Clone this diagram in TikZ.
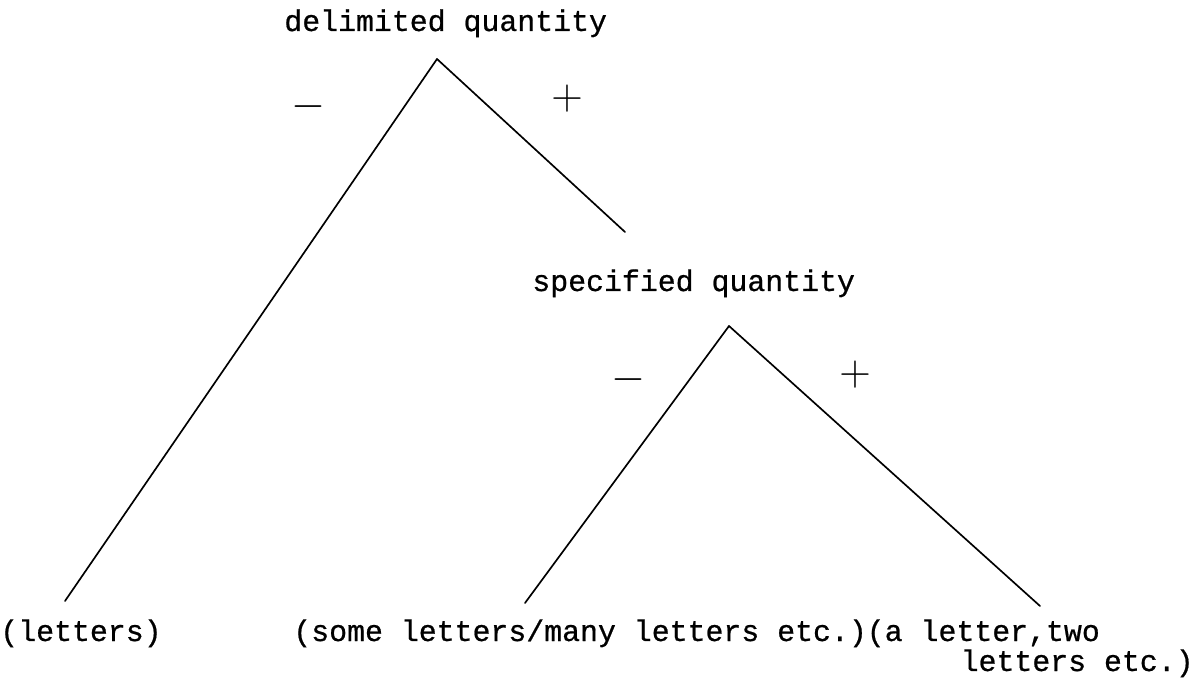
\documentclass[tikz,border=0pt]{standalone}
\usepackage{fontspec}
\setmonofont{Liberation Mono}[FakeBold=0.7]
\usetikzlibrary{positioning}

\begin{document}
\begin{tikzpicture}[
    x=0.02cm, y=-0.02cm,
    font=\ttfamily\fontsize{17}{20}\selectfont,
    word/.style={inner sep=0pt, anchor=base west},
    branch/.style={line width=0.95pt, line cap=round},
    plus/.style={inner sep=0pt, font=\fontsize{42}{42}\selectfont},
    minus/.style={inner sep=0pt, font=\fontsize{30}{30}\selectfont}
]
\useasboundingbox (0,0) rectangle (1196,678);

% labels of the tree
\node[word] (delim) at (284,31) {delimited quantity};
\node[word] (spec) at (532,291) {specified quantity};
\node[word] (lett) at (0,641) {(letters)};
\node[word] (some) at (293,641) {(some letters/many letters etc.)(a letter,two};
\node[word, anchor=base east] (more) at (1194,671) {letters etc.)};

% branch points and ends
\coordinate (dtop) at (437,59);
\coordinate (dleft) at (65,601);
\coordinate (dright) at (625,232);
\coordinate (stop) at (729,326);
\coordinate (sleft) at (525,603);
\coordinate (sright) at (1040,606);

\foreach \a/\b in {dtop/dleft, dtop/dright, stop/sleft, stop/sright}
    \draw[branch] (\a) -- (\b);

% feature values
\node[minus] (dneg) at (308,107) {$-$};
\node[plus] (dpos) at (567,99) {$+$};
\node[minus] (sneg) at (628,380) {$-$};
\node[plus] (spos) at (855,375) {$+$};
\end{tikzpicture}
\end{document}
